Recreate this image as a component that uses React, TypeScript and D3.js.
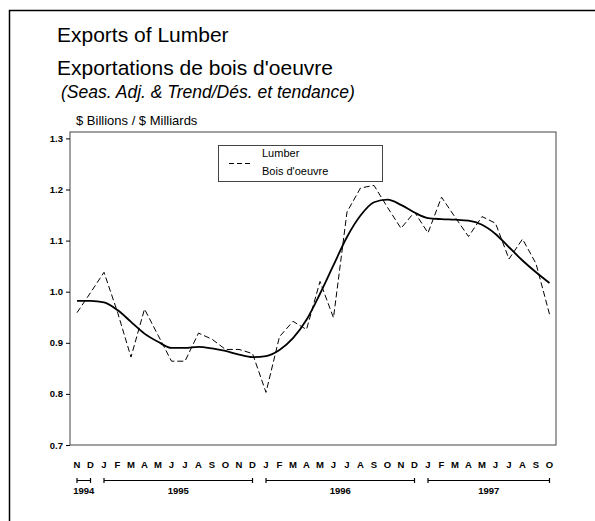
import * as d3 from "d3";
import React, { useEffect, useRef } from "react";

// Nov 1994 .. Oct 1997
const months = ["N", "D", "J", "F", "M", "A", "M", "J", "J", "A", "S", "O", "N", "D", "J", "F", "M", "A", "M", "J", "J", "A", "S", "O", "N", "D", "J", "F", "M", "A", "M", "J", "J", "A", "S", "O"];

const lumber = [0.959, 0.998, 1.038, 0.96, 0.872, 0.966, 0.915, 0.864, 0.864, 0.919, 0.907, 0.887, 0.887, 0.879, 0.803, 0.912, 0.942, 0.926, 1.02, 0.949, 1.156, 1.203, 1.208, 1.165, 1.124, 1.156, 1.115, 1.185, 1.146, 1.108, 1.147, 1.134, 1.064, 1.103, 1.055, 0.956];

const trend = [0.982, 0.982, 0.979, 0.964, 0.941, 0.918, 0.902, 0.89, 0.89, 0.892, 0.889, 0.884, 0.877, 0.872, 0.874, 0.886, 0.909, 0.945, 0.996, 1.052, 1.107, 1.149, 1.175, 1.18, 1.17, 1.155, 1.144, 1.142, 1.141, 1.139, 1.131, 1.113, 1.087, 1.061, 1.038, 1.017];

const yTicks = [0.7, 0.8, 0.9, 1.0, 1.1, 1.2, 1.3];

// year label, first month index, last month index
const years: [string, number, number][] = [
  ["1994", 0, 1],
  ["1995", 2, 13],
  ["1996", 14, 25],
  ["1997", 26, 35],
];

export default function App() {
  const svgRef = useRef<SVGSVGElement>(null);

  useEffect(() => {
    const svg = d3.select(svgRef.current);
    svg.selectAll("*").remove();

    const plot = { left: 70, right: 556, top: 132, bottom: 445 };
    const font = "Liberation Sans, Arial, sans-serif";

    const x = d3.scaleLinear().domain([0, months.length - 1]).range([77, 549.5]);
    const y = d3.scaleLinear().domain([0.7, 1.3]).range([445, 138.4]);

    // outer frame (top and left only)
    svg.append("path")
      .attr("d", "M9.5,521 L9.5,10.5 L595,10.5")
      .attr("fill", "none")
      .attr("stroke", "#000")
      .attr("stroke-width", 1.5);

    // titles
    const title = svg.append("g").attr("font-family", font).attr("fill", "#000");
    title.append("text").attr("x", 57).attr("y", 42).attr("font-size", 21).text("Exports of Lumber");
    title.append("text").attr("x", 57).attr("y", 75).attr("font-size", 21).text("Exportations de bois d'oeuvre");
    title.append("text").attr("x", 61).attr("y", 98).attr("font-size", 17.5).attr("font-style", "italic")
      .text("(Seas. Adj. & Trend/Dés. et tendance)");
    title.append("text").attr("x", 76).attr("y", 125).attr("font-size", 13).text("$ Billions / $ Milliards");

    // plot box
    svg.append("rect")
      .attr("x", plot.left).attr("y", plot.top)
      .attr("width", plot.right - plot.left).attr("height", plot.bottom - plot.top)
      .attr("fill", "none").attr("stroke", "#444").attr("stroke-width", 1);

    // y axis
    const yAxis = svg.append("g")
      .attr("transform", `translate(${plot.left},0)`)
      .call(d3.axisLeft(y).tickValues(yTicks).tickFormat(d3.format(".1f")).tickSize(4).tickPadding(3));
    yAxis.select(".domain").remove();
    yAxis.selectAll("line").attr("stroke", "#000");
    yAxis.selectAll("text")
      .attr("font-family", font)
      .attr("font-weight", "bold")
      .attr("font-size", 9.5)
      .attr("fill", "#000");

    // series
    const line = d3.line<number>().x((d, i) => x(i)).y((d) => y(d));

    svg.append("path")
      .datum(lumber)
      .attr("d", line)
      .attr("fill", "none")
      .attr("stroke", "#000")
      .attr("stroke-width", 1)
      .attr("stroke-dasharray", "6,3");

    svg.append("path")
      .datum(trend)
      .attr("d", line.curve(d3.curveMonotoneX))
      .attr("fill", "none")
      .attr("stroke", "#000")
      .attr("stroke-width", 1.8);

    // legend
    const lg = svg.append("g").attr("font-family", font);
    lg.append("rect").attr("x", 218.5).attr("y", 145.5).attr("width", 164).attr("height", 36)
      .attr("fill", "#fff").attr("stroke", "#444").attr("stroke-width", 1);
    lg.append("line").attr("x1", 229).attr("x2", 252).attr("y1", 163.5).attr("y2", 163.5)
      .attr("stroke", "#000").attr("stroke-dasharray", "5,3");
    lg.append("text").attr("x", 262).attr("y", 157).attr("font-size", 11).text("Lumber");
    lg.append("text").attr("x", 262).attr("y", 175).attr("font-size", 11).text("Bois d'oeuvre");

    // month labels
    svg.append("g")
      .selectAll("text")
      .data(months)
      .join("text")
      .attr("x", (d, i) => x(i))
      .attr("y", 468)
      .attr("text-anchor", "middle")
      .attr("font-family", font)
      .attr("font-weight", "bold")
      .attr("font-size", 9.5)
      .text((d) => d);

    // year brackets
    const yg = svg.append("g").selectAll("g").data(years).join("g");
    yg.append("line")
      .attr("x1", (d) => x(d[1])).attr("x2", (d) => x(d[2]))
      .attr("y1", 480.5).attr("y2", 480.5)
      .attr("stroke", "#000").attr("stroke-width", 1);
    yg.append("line")
      .attr("x1", (d) => x(d[1])).attr("x2", (d) => x(d[1]))
      .attr("y1", 478).attr("y2", 483)
      .attr("stroke", "#000").attr("stroke-width", 1.2);
    yg.append("line")
      .attr("x1", (d) => x(d[2])).attr("x2", (d) => x(d[2]))
      .attr("y1", 478).attr("y2", 483)
      .attr("stroke", "#000").attr("stroke-width", 1.2);
    yg.append("text")
      .attr("x", (d) => (x(d[1]) + x(d[2])) / 2)
      .attr("y", 494)
      .attr("text-anchor", "middle")
      .attr("font-family", font)
      .attr("font-weight", "bold")
      .attr("font-size", 9.5)
      .text((d) => d[0]);
  }, []);

  return (
    <svg
      ref={svgRef}
      width={595}
      height={521}
      style={{ position: "absolute", left: 0, top: 0, background: "#fff" }}
    />
  );
}
